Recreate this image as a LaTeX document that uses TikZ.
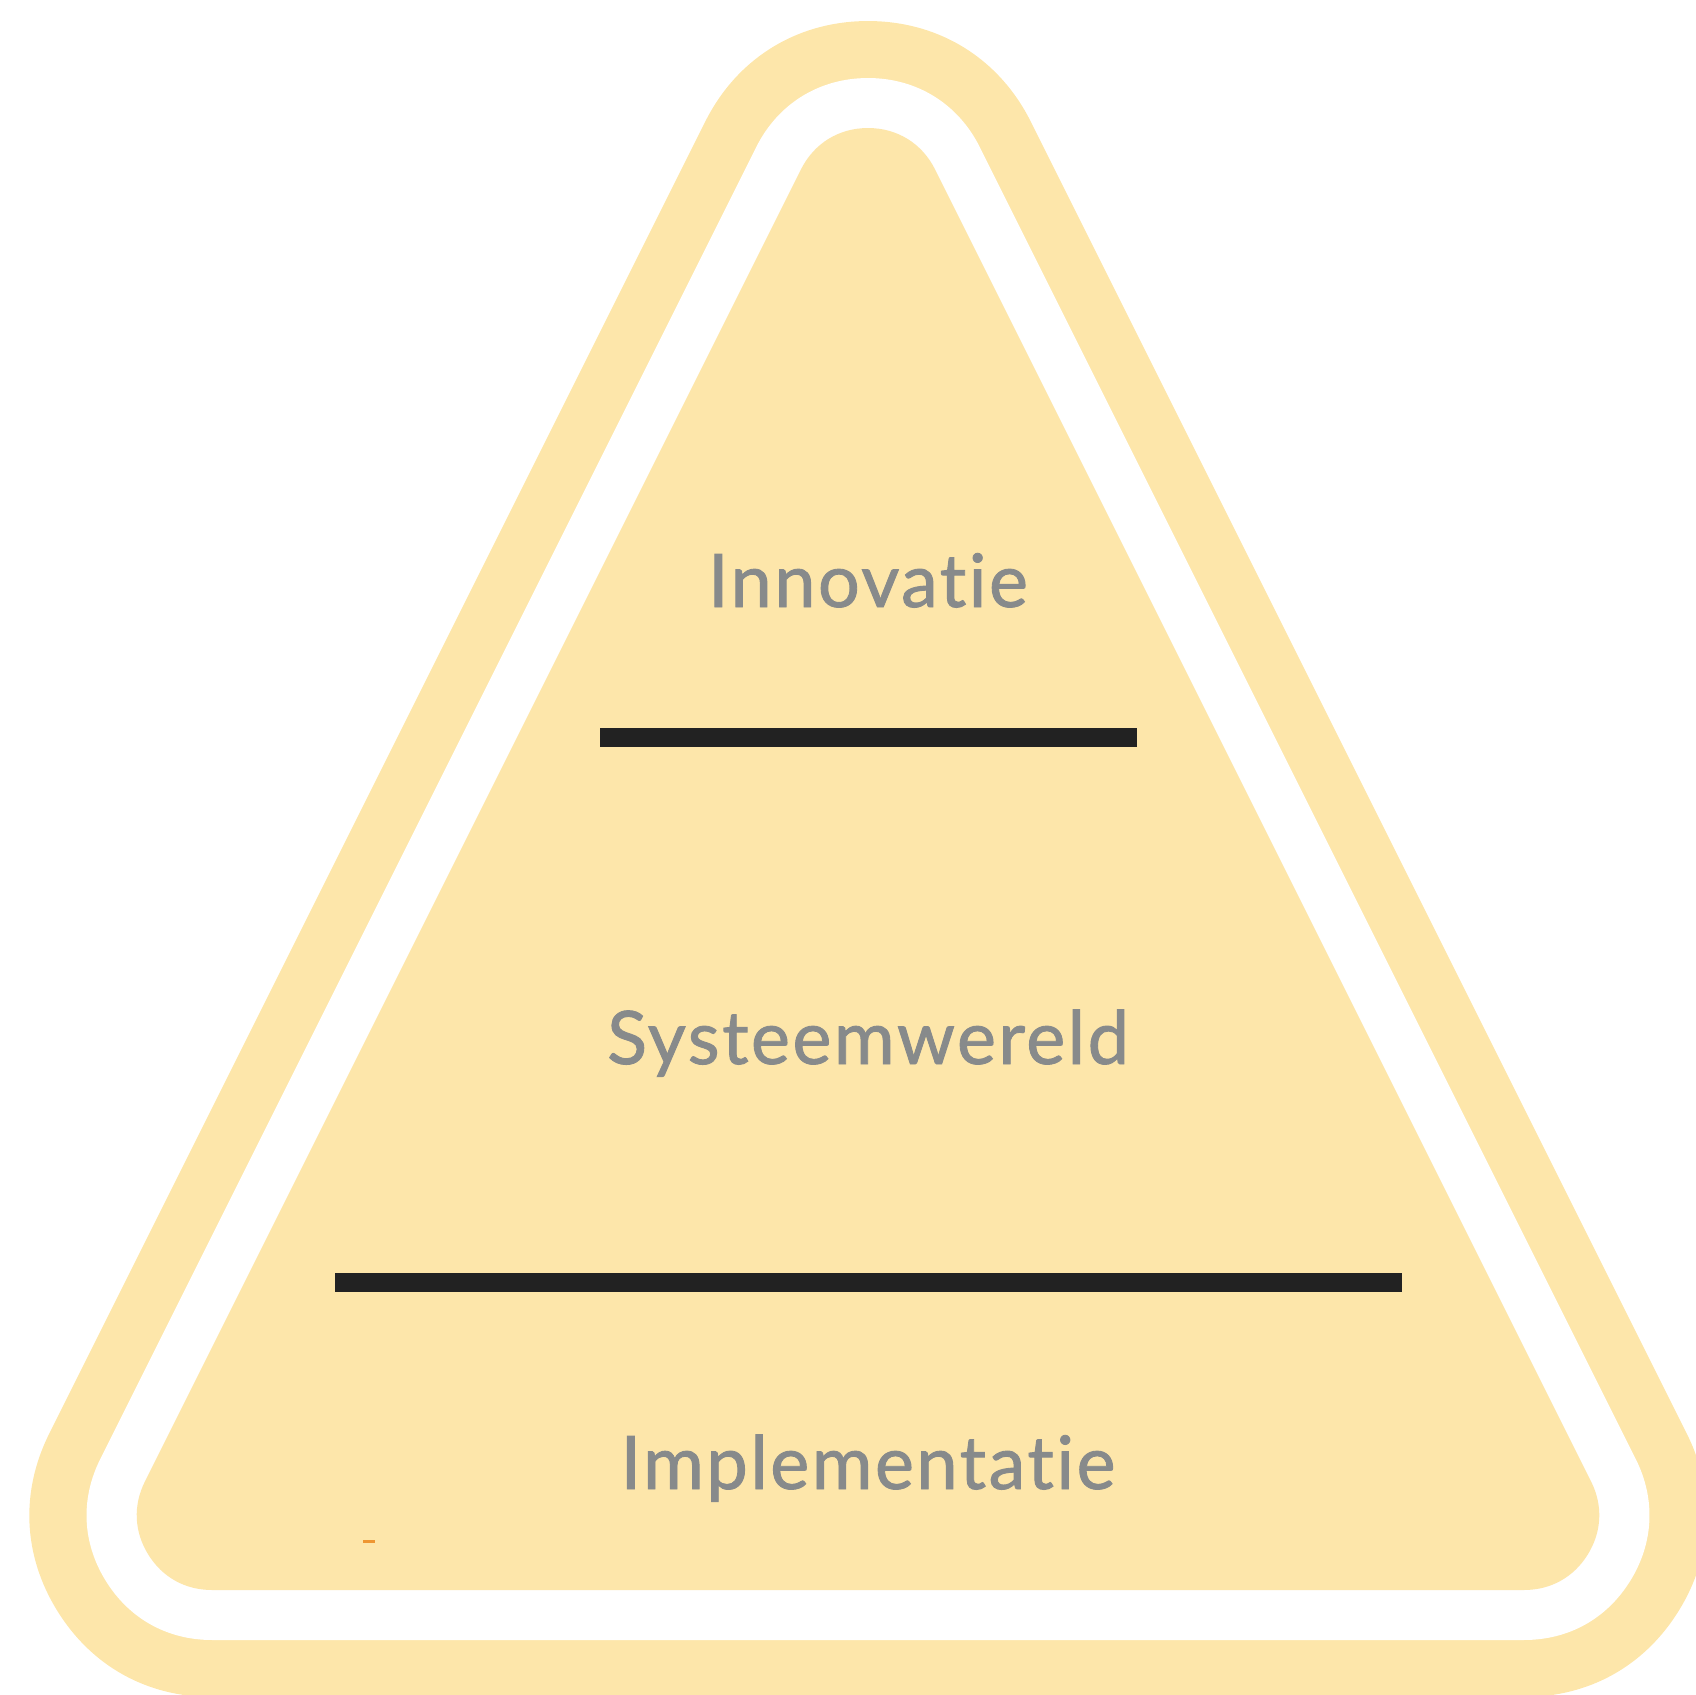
\documentclass[tikz,border=0pt]{standalone}
\usepackage{fontspec}
\setmainfont[Ligatures=NoCommon, LetterSpace=3.4, FakeBold=1.2]{Lato}
\usepackage{tikz}

\definecolor{pyramid}{RGB}{253,230,170}
\definecolor{labelgray}{RGB}{135,138,139}
\definecolor{bargray}{RGB}{34,34,34}
\definecolor{speck}{RGB}{238,150,50}

\begin{document}
\begin{tikzpicture}[x=0.02cm,y=-0.02cm]
		\tikzstyle{shell}=[line join=round, draw=pyramid, fill=pyramid]
		\tikzstyle{gap}=[line join=round, draw=white, fill=white]
		\tikzstyle{level}=[text=labelgray, font=\fontsize{42}{50}\selectfont, anchor=base, inner sep=0pt]
		\tikzstyle{divider}=[fill=bargray]

		\useasboundingbox (0,0) rectangle (1696,1694);
		\clip (0,0) rectangle (1696,1694);

		\coordinate (apex) at (868,203);
		\coordinate (bl) at (212,1515);
		\coordinate (br) at (1524,1515);

		% band, white gap, inner triangle
		\path [shell, line width=7.28cm] (apex) -- (bl) -- (br) -- cycle;
		\path [gap, line width=5cm] (apex) -- (bl) -- (br) -- cycle;
		\path [shell, line width=3cm] (apex) -- (bl) -- (br) -- cycle;

		\fill [divider] (600,728) rectangle (1137,747);
		\fill [divider] (335,1273) rectangle (1402,1292);

		\node [level] (innovatie) at (868,607) {Innovatie};
		\node [level] (systeem) at (868,1064) {Systeemwereld};
		\node [level] (impl) at (868,1489) {Implementatie};

		\fill [speck] (363,1540) rectangle (375,1543);
	\end{tikzpicture}
\end{document}
